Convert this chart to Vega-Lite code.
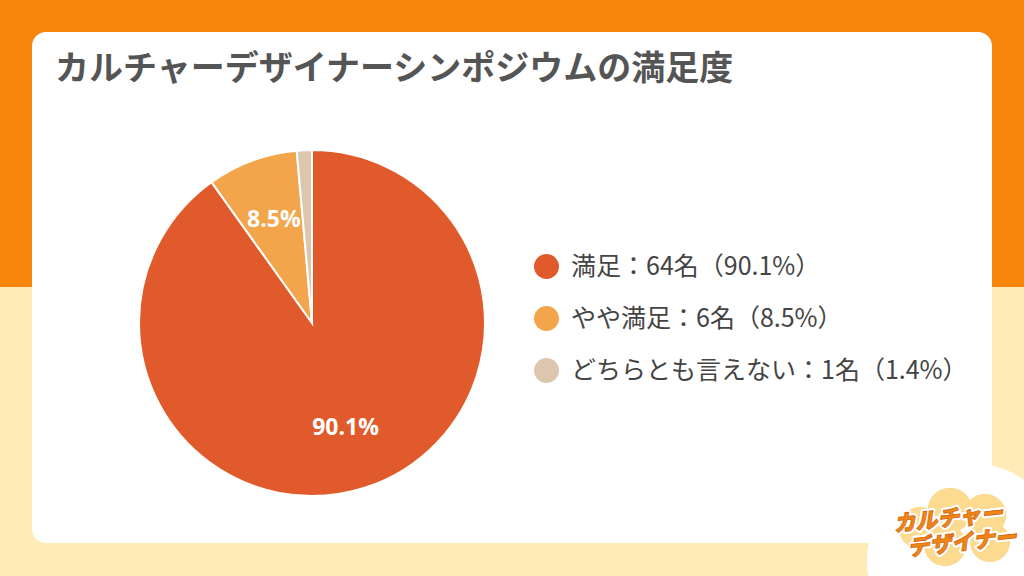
{
  "$schema": "https://vega.github.io/schema/vega-lite/v6.json",
  "description": "カルチャーデザイナーシンポジウムの満足度 (pie chart)",
  "width": 1024,
  "height": 576,
  "autosize": "none",
  "padding": 0,
  "background": "#F7860A",
  "config": {
    "view": {"stroke": null},
    "axis": {"disable": true},
    "font": "Noto Sans CJK JP"
  },
  "datasets": {
    "survey": [
      {"order": 1, "answer": "満足", "count": 64, "pct": 90.1},
      {"order": 2, "answer": "やや満足", "count": 6, "pct": 8.5},
      {"order": 3, "answer": "どちらとも言えない", "count": 1, "pct": 1.4}
    ]
  },
  "layer": [
    {
      "data": {"values": [{}]},
      "mark": {"type": "rect", "color": "#FEEBB7"},
      "encoding": {
        "x": {"datum": 0, "type": "quantitative", "scale": {"domain": [0, 1024], "nice": false, "zero": false}},
        "x2": {"datum": 1024},
        "y": {"datum": 287, "type": "quantitative", "scale": {"domain": [0, 576], "nice": false, "zero": false, "reverse": true}},
        "y2": {"datum": 576}
      }
    },
    {
      "data": {"values": [{}]},
      "mark": {"type": "rect", "color": "#FFFFFF", "cornerRadius": 14},
      "encoding": {
        "x": {"datum": 32, "type": "quantitative"},
        "x2": {"datum": 992},
        "y": {"datum": 32, "type": "quantitative"},
        "y2": {"datum": 543}
      }
    },
    {
      "data": {"values": [{}]},
      "mark": {"type": "point", "shape": "circle", "filled": true, "opacity": 1, "color": "#FFFFFF", "size": 40000, "strokeWidth": 0},
      "encoding": {
        "x": {"datum": 967, "type": "quantitative"},
        "y": {"datum": 562, "type": "quantitative"}
      }
    },
    {
      "data": {"name": "survey"},
      "transform": [
        {"calculate": "datum.answer + '：' + datum.count + '名（' + format(datum.pct, '.1f') + '%）'", "as": "legend_label"}
      ],
      "mark": {"type": "arc", "outerRadius": 173, "stroke": "#FFFFFF", "strokeWidth": 2},
      "encoding": {
        "x": {"datum": 312, "type": "quantitative"},
        "y": {"datum": 323, "type": "quantitative"},
        "theta": {"field": "count", "type": "quantitative", "stack": true},
        "order": {"field": "order", "type": "quantitative"},
        "color": {
          "field": "legend_label",
          "type": "nominal",
          "sort": {"field": "order", "op": "min"},
          "scale": {"range": ["#E05A2B", "#F3A54B", "#DCC6AE"]},
          "legend": {
            "orient": "none",
            "legendX": 534,
            "legendY": 254,
            "title": null,
            "padding": 0,
            "symbolType": "circle",
            "symbolSize": 625,
            "symbolStrokeWidth": 0,
            "symbolOpacity": 1,
            "labelFont": "Noto Sans CJK JP",
            "labelFontSize": 25,
            "labelColor": "#444444",
            "labelOffset": 12,
            "labelLimit": 600,
            "rowPadding": 26
          }
        }
      }
    },
    {
      "data": {"name": "survey"},
      "transform": [
        {"calculate": "datum.pct >= 5 ? format(datum.pct, '.1f') + '%' : ''", "as": "pct_label"}
      ],
      "mark": {"type": "text", "radius": 110, "fill": "#FFFFFF", "fontSize": 23, "fontWeight": "bold", "font": "Open Sans"},
      "encoding": {
        "x": {"datum": 312, "type": "quantitative"},
        "y": {"datum": 323, "type": "quantitative"},
        "theta": {"field": "count", "type": "quantitative", "stack": true},
        "order": {"field": "order", "type": "quantitative"},
        "text": {"field": "pct_label", "type": "nominal"}
      }
    },
    {
      "data": {"values": [{}]},
      "mark": {"type": "text", "text": "カルチャーデザイナーシンポジウムの満足度", "align": "left", "baseline": "middle", "fontSize": 34, "fontWeight": "bold", "color": "#555555"},
      "encoding": {
        "x": {"datum": 55, "type": "quantitative"},
        "y": {"datum": 70, "type": "quantitative"}
      }
    },
    {
      "data": {"values": [{}]},
      "mark": {"type": "point", "shape": "circle", "filled": true, "opacity": 1, "color": "#FCDA8F", "size": 1800, "strokeWidth": 0},
      "encoding": {"x": {"datum": 920, "type": "quantitative"}, "y": {"datum": 528, "type": "quantitative"}}
    },
    {
      "data": {"values": [{}]},
      "mark": {"type": "point", "shape": "circle", "filled": true, "opacity": 1, "color": "#FCDA8F", "size": 2000, "strokeWidth": 0},
      "encoding": {"x": {"datum": 950, "type": "quantitative"}, "y": {"datum": 510, "type": "quantitative"}}
    },
    {
      "data": {"values": [{}]},
      "mark": {"type": "point", "shape": "circle", "filled": true, "opacity": 1, "color": "#FCDA8F", "size": 1800, "strokeWidth": 0},
      "encoding": {"x": {"datum": 985, "type": "quantitative"}, "y": {"datum": 515, "type": "quantitative"}}
    },
    {
      "data": {"values": [{}]},
      "mark": {"type": "point", "shape": "circle", "filled": true, "opacity": 1, "color": "#FCDA8F", "size": 1800, "strokeWidth": 0},
      "encoding": {"x": {"datum": 945, "type": "quantitative"}, "y": {"datum": 545, "type": "quantitative"}}
    },
    {
      "data": {"values": [{}]},
      "mark": {"type": "point", "shape": "circle", "filled": true, "opacity": 1, "color": "#FCDA8F", "size": 1600, "strokeWidth": 0},
      "encoding": {"x": {"datum": 990, "type": "quantitative"}, "y": {"datum": 542, "type": "quantitative"}}
    },
    {
      "data": {"values": [{}]},
      "mark": {"type": "text", "text": "カルチャー", "align": "center", "baseline": "middle", "fontSize": 22, "fontWeight": 900, "fontStyle": "italic", "angle": -6, "fill": "#FFFFFF", "stroke": "#FFFFFF", "strokeWidth": 5, "strokeJoin": "round"},
      "encoding": {"x": {"datum": 948, "type": "quantitative"}, "y": {"datum": 519, "type": "quantitative"}}
    },
    {
      "data": {"values": [{}]},
      "mark": {"type": "text", "text": "カルチャー", "align": "center", "baseline": "middle", "fontSize": 22, "fontWeight": 900, "fontStyle": "italic", "angle": -6, "fill": "#EE8618", "stroke": "#D8680E", "strokeWidth": 0.8},
      "encoding": {"x": {"datum": 948, "type": "quantitative"}, "y": {"datum": 519, "type": "quantitative"}}
    },
    {
      "data": {"values": [{}]},
      "mark": {"type": "text", "text": "デザイナー", "align": "center", "baseline": "middle", "fontSize": 22, "fontWeight": 900, "fontStyle": "italic", "angle": -6, "fill": "#FFFFFF", "stroke": "#FFFFFF", "strokeWidth": 5, "strokeJoin": "round"},
      "encoding": {"x": {"datum": 962, "type": "quantitative"}, "y": {"datum": 543, "type": "quantitative"}}
    },
    {
      "data": {"values": [{}]},
      "mark": {"type": "text", "text": "デザイナー", "align": "center", "baseline": "middle", "fontSize": 22, "fontWeight": 900, "fontStyle": "italic", "angle": -6, "fill": "#EE8618", "stroke": "#D8680E", "strokeWidth": 0.8},
      "encoding": {"x": {"datum": 962, "type": "quantitative"}, "y": {"datum": 543, "type": "quantitative"}}
    }
  ]
}
